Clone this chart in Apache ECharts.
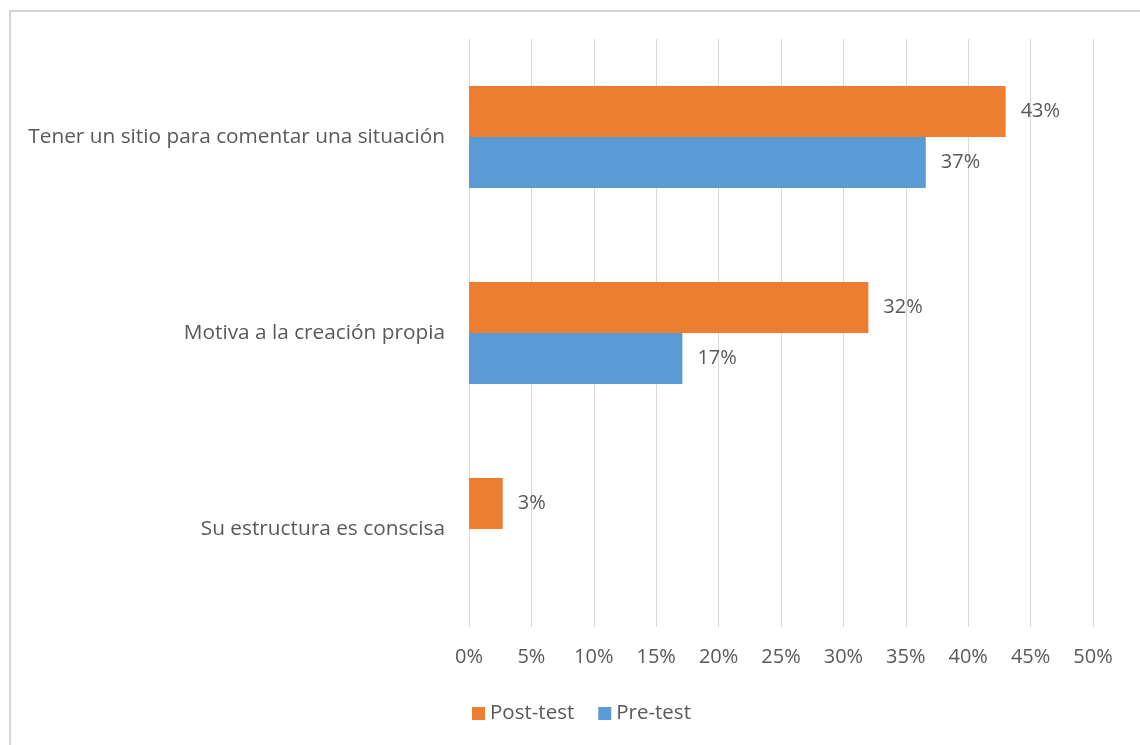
<!DOCTYPE html>
<html>
<head>
<meta charset="utf-8">
<script src="https://cdn.jsdelivr.net/npm/echarts@6/dist/echarts.min.js"></script>
<style>
html,body{margin:0;padding:0;background:#fff;}
#c{width:1140px;height:745px;}
</style>
</head>
<body>
<div id="c"></div>
<script>
const categories = ['Tener un sitio para comentar una situación', 'Motiva a la creación propia', 'Su estructura es conscisa'];
const postTest = [43, 32, 2.7];
const preTest = [36.6, 17.1, 0];
const postLabels = ['43%', '32%', '3%'];
const preLabels = ['37%', '17%', ''];
const seriesNames = ['Post-test', 'Pre-test'];

const FONT = 'Open Sans';
const TXT = '#595959';
const FS = 20;

const chart = echarts.init(document.getElementById('c'), null, {renderer: 'canvas'});
chart.setOption({
  backgroundColor: '#ffffff',
  animation: false,
  textStyle: {fontFamily: FONT, color: TXT},
  graphic: [
    {type: 'line', shape: {x1: 9, y1: 11, x2: 1140, y2: 11}, style: {stroke: '#d4d4d4', lineWidth: 2}},
    {type: 'line', shape: {x1: 10, y1: 10, x2: 10, y2: 745}, style: {stroke: '#d4d4d4', lineWidth: 2}}
  ],
  legend: {
    data: seriesNames,
    left: 467,
    top: 698,
    itemWidth: 13,
    itemHeight: 13,
    itemGap: 24,
    icon: 'rect',
    textStyle: {fontFamily: FONT, fontSize: 20.5, color: TXT}
  },
  grid: {left: 469, right: 47, top: 39, bottom: 118, containLabel: false},
  xAxis: {
    type: 'value',
    min: 0,
    max: 50,
    interval: 5,
    axisLine: {show: false},
    axisTick: {show: false},
    splitLine: {lineStyle: {color: '#d9d9d9', width: 1}},
    axisLabel: {formatter: '{value}%', fontFamily: FONT, fontSize: FS, color: TXT, margin: 20}
  },
  yAxis: {
    type: 'category',
    inverse: true,
    data: categories,
    axisLine: {show: false},
    axisTick: {show: false},
    axisLabel: {fontFamily: FONT, fontSize: 20.8, color: TXT, margin: 24}
  },
  series: [
    {
      name: seriesNames[0],
      type: 'bar',
      data: postTest,
      barWidth: 51,
      barGap: '0%',
      itemStyle: {color: '#ED7D31'},
      label: {show: true, position: 'right', distance: 15, fontFamily: FONT, fontSize: FS, color: TXT,
        formatter: p => postLabels[p.dataIndex]}
    },
    {
      name: seriesNames[1],
      type: 'bar',
      data: preTest,
      barWidth: 51,
      barGap: '0%',
      itemStyle: {color: '#5B9BD5'},
      label: {show: true, position: 'right', distance: 15, fontFamily: FONT, fontSize: FS, color: TXT,
        formatter: p => preLabels[p.dataIndex]}
    }
  ]
});
</script>
</body>
</html>
